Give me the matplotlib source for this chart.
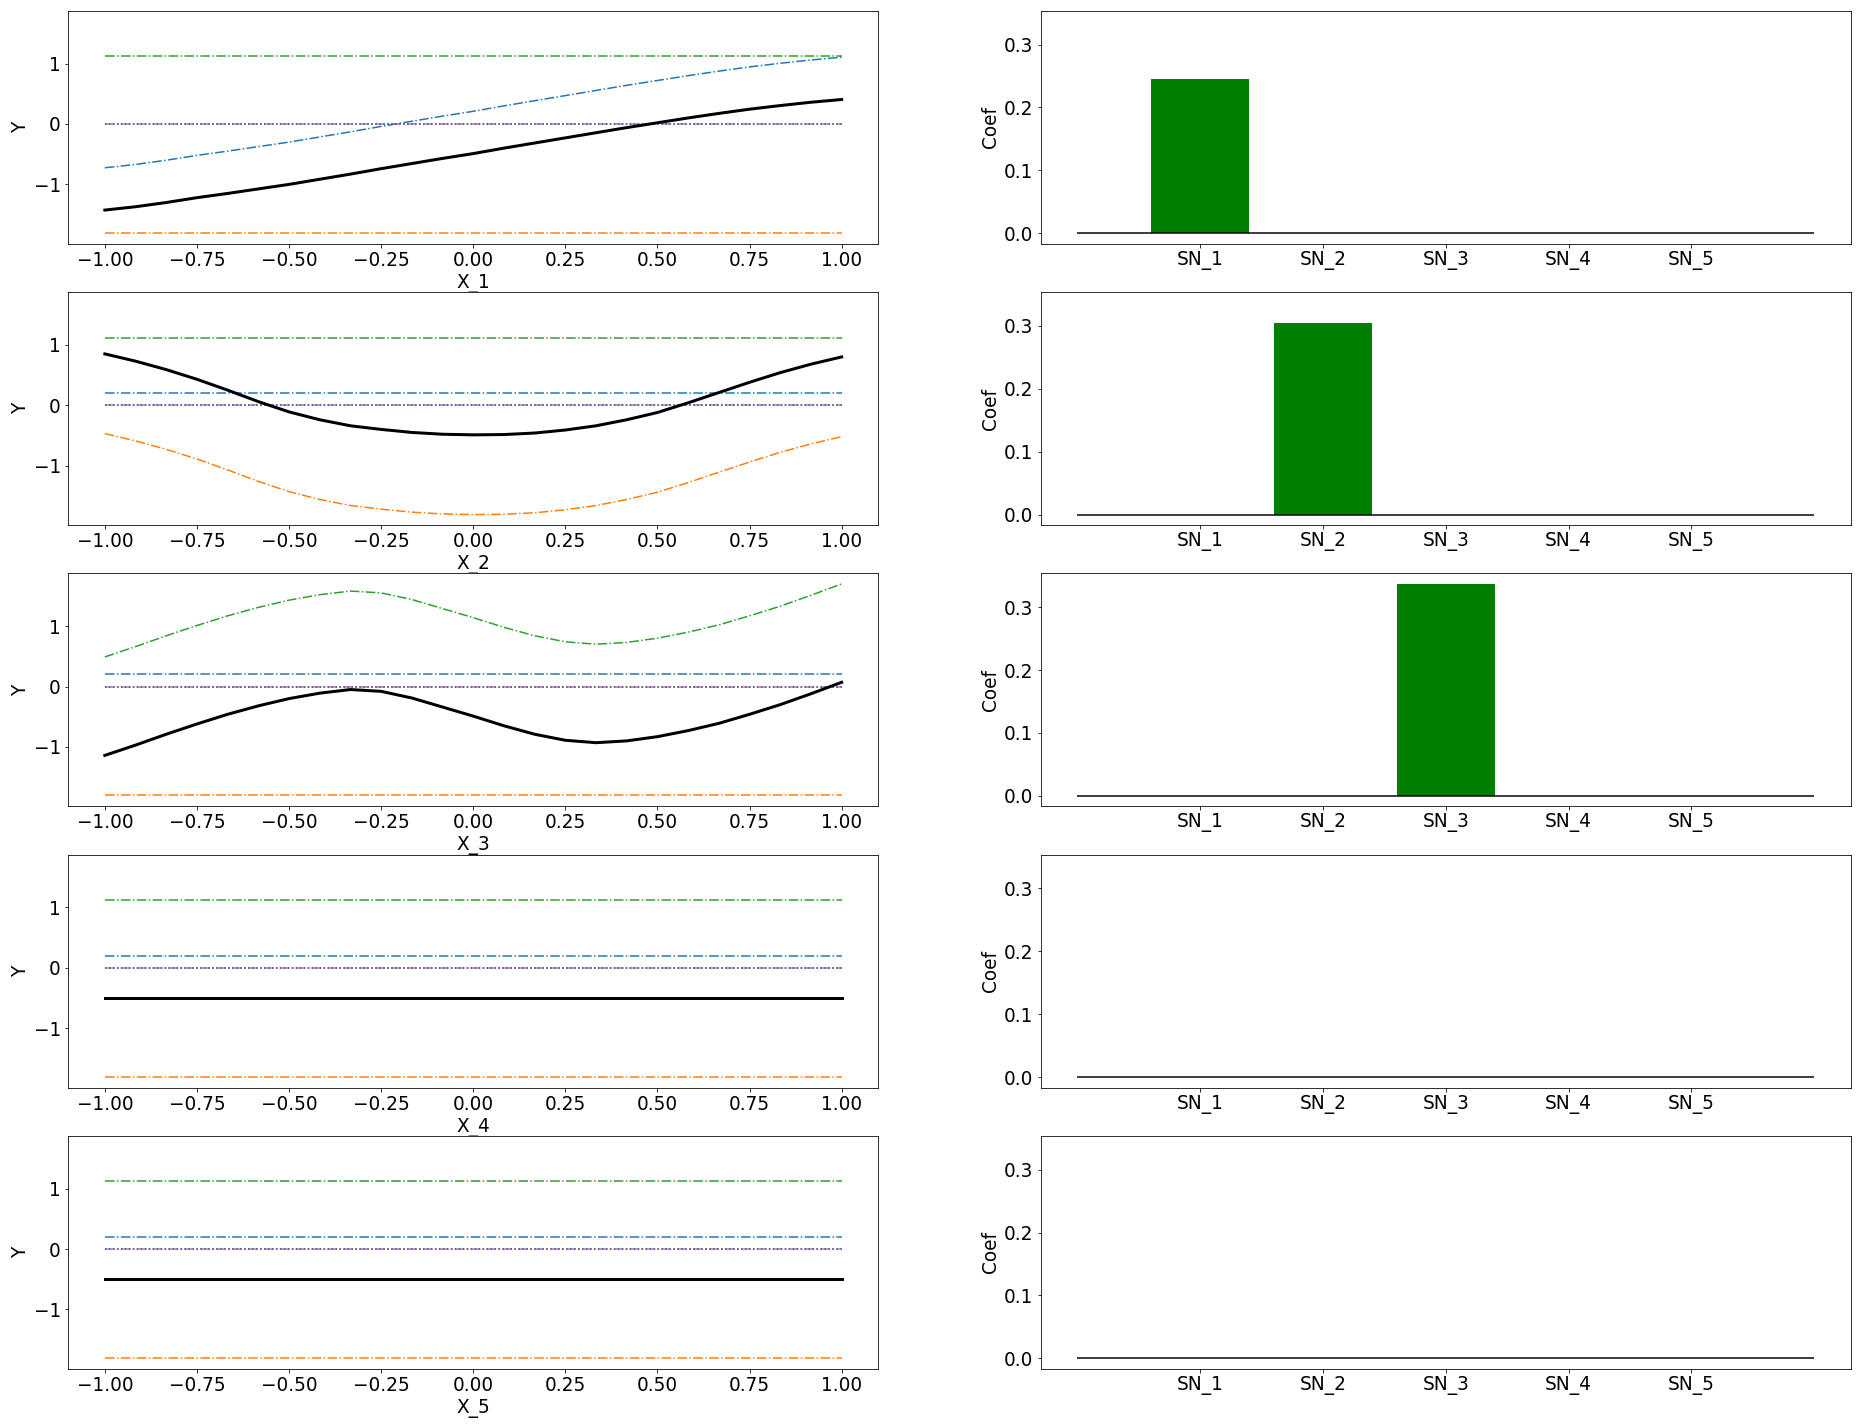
import numpy as np
import matplotlib
matplotlib.use("Agg")
import matplotlib.pyplot as plt

plt.rcParams['font.size'] = 18.5

# x grid (step 1/12)
x = np.linspace(-1, 1, 25)

# black curves (total response) read per input
y_x1 = [-1.425, -1.37, -1.30, -1.22, -1.15, -1.075, -1.00, -0.915, -0.83, -0.74, -0.655, -0.57, -0.49,
        -0.40, -0.315, -0.23, -0.145, -0.06, 0.02, 0.10, 0.175, 0.245, 0.305, 0.36, 0.405]
y_x2 = [0.85, 0.73, 0.59, 0.43, 0.25, 0.06, -0.11, -0.24, -0.34, -0.40, -0.45, -0.48, -0.49,
        -0.485, -0.46, -0.41, -0.34, -0.24, -0.12, 0.04, 0.21, 0.38, 0.54, 0.68, 0.80]
y_x3 = [-1.14, -0.97, -0.79, -0.62, -0.46, -0.32, -0.20, -0.11, -0.05, -0.08, -0.19, -0.34, -0.49,
        -0.65, -0.79, -0.89, -0.93, -0.90, -0.83, -0.73, -0.61, -0.46, -0.30, -0.12, 0.07]
y_x4 = [-0.5] * 25
y_x5 = [-0.5] * 25

# coloured curves where they vary
blue_x1 = [-0.725, -0.67, -0.60, -0.52, -0.45, -0.375, -0.30, -0.215, -0.13, -0.04, 0.045, 0.13, 0.21,
           0.30, 0.385, 0.47, 0.555, 0.64, 0.72, 0.80, 0.875, 0.945, 1.005, 1.06, 1.105]
orange_x2 = [-0.47, -0.59, -0.73, -0.89, -1.07, -1.26, -1.43, -1.56, -1.66, -1.72, -1.77, -1.80, -1.81,
             -1.805, -1.78, -1.73, -1.66, -1.56, -1.44, -1.28, -1.11, -0.94, -0.78, -0.64, -0.52]
green_x3 = [0.49, 0.66, 0.84, 1.01, 1.17, 1.31, 1.43, 1.52, 1.58, 1.55, 1.44, 1.29, 1.14,
            0.98, 0.84, 0.74, 0.70, 0.73, 0.80, 0.90, 1.02, 1.17, 1.33, 1.51, 1.70]

# constant levels of the coloured curves
blue_level = 0.2
orange_level = -1.8
green_level = 1.12

curves = [y_x1, y_x2, y_x3, y_x4, y_x5]
xlabels = ['X_1', 'X_2', 'X_3', 'X_4', 'X_5']

# coefficients
sn_labels = ['SN_1', 'SN_2', 'SN_3', 'SN_4', 'SN_5']
coefs = [
    [0.246, 0, 0, 0, 0],
    [0, 0.304, 0, 0, 0],
    [0, 0, 0.337, 0, 0],
    [0, 0, 0, 0, 0],
    [0, 0, 0, 0, 0],
]

fig, axes = plt.subplots(5, 2, figsize=(1863 / 72, 1425 / 72), dpi=72, sharey='col')
fig.subplots_adjust(left=0.0365, right=0.9936, bottom=0.0393, top=0.9925, hspace=0.206, wspace=0.2)

for i in range(5):
    ax = axes[i, 0]
    black = np.array(curves[i])
    blue = np.array(blue_x1) if i == 0 else np.full_like(x, blue_level)
    orange = np.array(orange_x2) if i == 1 else np.full_like(x, orange_level)
    green = np.array(green_x3) if i == 2 else np.full_like(x, green_level)

    ax.plot(x, blue, color='tab:blue', ls='-.', lw=1.5)
    ax.plot(x, orange, color='tab:orange', ls='-.', lw=1.5)
    ax.plot(x, green, color='tab:green', ls='-.', lw=1.5)
    ax.plot(x, np.zeros_like(x), color='k', ls=':', lw=1.5)
    ax.plot(x, np.zeros_like(x), color='tab:purple', ls='-.', lw=1.5, alpha=0.85)
    ax.plot(x, black, color='k', lw=3)
    ax.set_xlabel(xlabels[i])
    ax.set_ylabel('Y')

    ax2 = axes[i, 1]
    pos = np.arange(1, 6)
    ax2.bar(pos, coefs[i], width=0.8, color='green')
    ax2.hlines(0, 0, 6, color='k', alpha=0.75, lw=2)
    ax2.set_xticks(pos)
    ax2.set_xticklabels(sn_labels)
    ax2.set_ylabel('Coef')
    ax2.use_sticky_edges = False
    ax2.autoscale_view()

fig.savefig('out.png', dpi=72)
